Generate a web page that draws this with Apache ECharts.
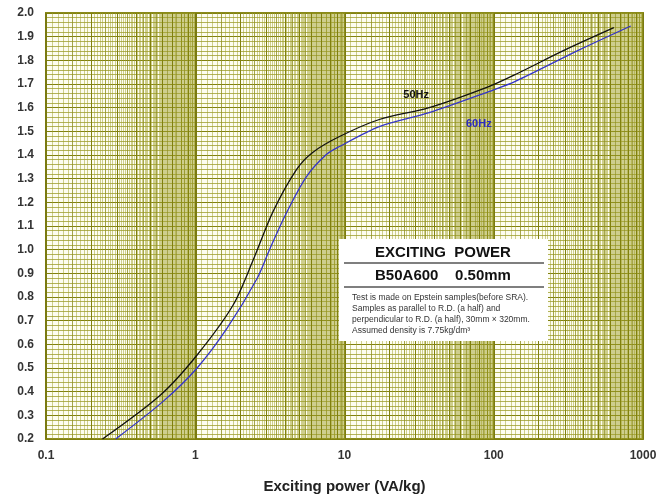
<!DOCTYPE html>
<html><head><meta charset="utf-8">
<script src="https://cdn.jsdelivr.net/npm/echarts@6/dist/echarts.min.js"></script>
<style>html,body{margin:0;padding:0;background:#fff}#c{width:670px;height:499px}</style>
</head><body><div id="c"></div>
<script>
// Exciting power (VA/kg) vs flux density (T)
const power50 = [0.239, 0.585, 1.026, 1.79, 2.44, 3.31, 4.79, 6.12, 9.26, 17.1, 36.9, 92.6, 139.5, 300, 638];
const flux50  = [0.2, 0.386, 0.554, 0.765, 0.955, 1.159, 1.34, 1.411, 1.478, 1.55, 1.6, 1.689, 1.74, 1.844, 1.938];
const power60 = [0.293, 0.612, 1.026, 1.63, 2.59, 3.16, 4.11, 5.58, 7.59, 9.26, 17.1, 36.9, 92.6, 139.5, 374, 828];
const flux60  = [0.2, 0.36, 0.499, 0.667, 0.877, 1.003, 1.159, 1.31, 1.403, 1.436, 1.52, 1.579, 1.668, 1.711, 1.844, 1.945];
const xTickLabels = ['0.1', '1', '10', '100', '1000'];
const decades = [0.1, 1, 10, 100];
const seriesNames = ['50Hz', '60Hz'];
const boxTitle = 'EXCITING  POWER';
const boxGrade = 'B50A600    0.50mm';
const boxNotes = [
  'Test is made on Epstein samples(before SRA).',
  'Samples as parallel to R.D. (a half) and',
  'perpendicular to R.D. (a half), 30mm \u00d7 320mm.',
  'Assumed density is 7.75kg/dm\u00b3'
];

const FONT = '"Liberation Sans", Arial, sans-serif';
const chart = echarts.init(document.getElementById('c'), null, {renderer: 'canvas'});

// log-paper vertical grid lines
const vLines = [];
decades.forEach(d => {
  for (let k = 11; k <= 99; k++) {
    const v = +(d * k / 10).toPrecision(6);
    const isInt = k % 10 === 0;
    const isHalf = k % 5 === 0;
    vLines.push({
      xAxis: v,
      lineStyle: isInt ? {color: '#80800e', width: 1, opacity: 1, type: 'solid'}
               : isHalf ? {color: '#8f8f20', width: 1, opacity: 0.8, type: 'solid'}
                        : {color: '#a0a02a', width: 1, opacity: 0.5, type: 'solid'}
    });
  }
});

const pair = (xs, ys) => xs.map((x, i) => [x, ys[i]]);

chart.setOption({
  animation: false,
  backgroundColor: '#ffffff',
  title: [
    {text: boxTitle, left: 443, top: 245, textAlign: 'center', padding: 0, zlevel: 3, z: 10,
     textStyle: {fontFamily: FONT, fontSize: 15, fontWeight: 'bold', color: '#111'}},
    {text: boxGrade, left: 443, top: 268, textAlign: 'center', padding: 0, zlevel: 3, z: 10,
     textStyle: {fontFamily: FONT, fontSize: 15, fontWeight: 'bold', color: '#111'}}
  ],
  grid: {left: 46, right: 27, top: 13, bottom: 58, show: true,
         backgroundColor: '#fdfdf0', borderColor: '#8a8a1a', borderWidth: 2},
  xAxis: {
    type: 'log', logBase: 10, min: 0.1, max: 1000,
    name: 'Exciting power (VA/kg)', nameLocation: 'middle', nameGap: 40,
    nameTextStyle: {fontFamily: FONT, fontSize: 15, fontWeight: 'bold', color: '#222'},
    axisLine: {show: false}, axisTick: {show: false},
    axisLabel: {fontFamily: FONT, fontSize: 12, fontWeight: 'bold', color: '#333', margin: 11,
      formatter: v => {
        const i = Math.round(Math.log10(v)) + 1;
        return xTickLabels[i] !== undefined ? xTickLabels[i] : '';
      }},
    splitLine: {show: true, lineStyle: {color: '#7a7a10', width: 2}}
  },
  yAxis: {
    type: 'value', min: 0.2, max: 2.0, interval: 0.1,
    axisLine: {show: false}, axisTick: {show: false},
    axisLabel: {fontFamily: FONT, fontSize: 12, fontWeight: 'bold', color: '#333', margin: 12,
      formatter: v => v.toFixed(1)},
    splitLine: {show: true, lineStyle: {color: '#80800e', width: 1}},
    minorTick: {show: false, splitNumber: 5},
    minorSplitLine: {show: true, lineStyle: {color: '#9a9a25', width: 1, opacity: 0.75}}
  },
  series: [
    {
      type: 'line', name: 'grid', data: [], silent: true, z: 1,
      markLine: {silent: true, symbol: ['none', 'none'], label: {show: false},
                 animation: false, data: vLines}
    },
    {
      type: 'line', name: seriesNames[0], data: pair(power50, flux50), z: 5,
      smooth: 0.3, showSymbol: false, symbol: 'none',
      lineStyle: {color: '#111111', width: 1.3},
      markPoint: {symbol: 'circle', symbolSize: 1, itemStyle: {color: 'rgba(0,0,0,0)'},
        label: {show: true, position: 'inside', formatter: seriesNames[0], fontFamily: FONT,
                fontSize: 11, fontWeight: 'bold', color: '#111'},
        data: [{coord: [30.2, 1.655]}]}
    },
    {
      type: 'line', name: seriesNames[1], data: pair(power60, flux60), z: 5,
      smooth: 0.3, showSymbol: false, symbol: 'none',
      lineStyle: {color: '#3535c8', width: 1.3},
      markPoint: {symbol: 'circle', symbolSize: 1, itemStyle: {color: 'rgba(0,0,0,0)'},
        label: {show: true, position: 'inside', formatter: seriesNames[1], fontFamily: FONT,
                fontSize: 11, fontWeight: 'bold', color: '#2a2ac0'},
        data: [{coord: [79.4, 1.533]}]}
    }
  ],
  graphic: [
    {type: 'rect', zlevel: 2, z: 100, x: 339, y: 239,
     shape: {x: 0, y: 0, width: 209, height: 102}, style: {fill: '#ffffff'}},
    {type: 'line', zlevel: 2, z: 101, x: 344, y: 263,
     shape: {x1: 0, y1: 0, x2: 200, y2: 0}, style: {stroke: '#555', lineWidth: 1.5}},
    {type: 'line', zlevel: 2, z: 101, x: 344, y: 287,
     shape: {x1: 0, y1: 0, x2: 200, y2: 0}, style: {stroke: '#555', lineWidth: 1.5}},
    {type: 'text', zlevel: 2, z: 101, x: 352, y: 292,
     style: {text: boxNotes.join('\n'), font: '8.5px "Liberation Sans", Arial, sans-serif',
             lineHeight: 11, fill: '#333', align: 'left', verticalAlign: 'top'}}
  ]
});
</script>
</body></html>
